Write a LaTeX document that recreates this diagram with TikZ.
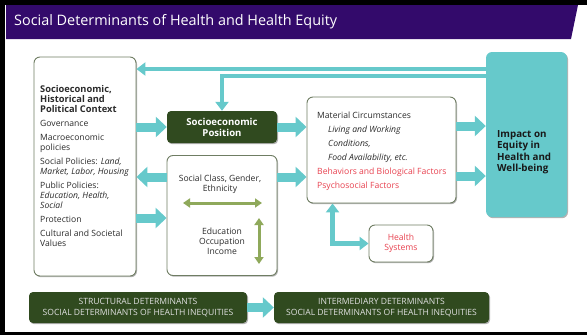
\documentclass[tikz,border=0pt]{standalone}
\usepackage{fontspec}
\setmainfont{Open Sans}
\usetikzlibrary{arrows.meta,shadows,calc}
\definecolor{ttl}{HTML}{330A6B}
\definecolor{tealc}{HTML}{66C9CB}
\definecolor{dgreen}{HTML}{304A1F}
\definecolor{bord}{HTML}{6F7D63}
\definecolor{redt}{HTML}{E8414F}
\definecolor{olive}{HTML}{8FA95B}
\definecolor{txt}{HTML}{2B2B2B}
\tikzset{
  shad/.style={drop shadow={shadow xshift=1pt,shadow yshift=-1.2pt,opacity=0.3,fill=black}},
  whitebox/.style={draw=bord,line width=0.9pt,fill=white,rounded corners=6pt,shad,inner sep=0pt},
  darkbox/.style={draw=none,fill=dgreen,rounded corners=4pt,shad,inner sep=0pt},
  blockarr/.style={draw=tealc,line width=9pt,-{Triangle[length=11pt,width=20pt]}},
  thinarr/.style={draw=tealc,line width=4.5pt,-{Triangle[length=9pt,width=13pt]}},
  hsarr/.style={draw=tealc,line width=5pt,{Triangle[length=9pt,width=13pt]}-{Triangle[length=9pt,width=13pt]}},
  greenarr/.style={draw=olive,line width=3pt,{Triangle[length=7pt,width=9pt]}-{Triangle[length=7pt,width=9pt]}},
  bodytext/.style={inner sep=0pt,text=txt,font=\fontsize{8.6}{10}\selectfont},
}
\begin{document}
\begin{tikzpicture}[x=1pt,y=-1pt]
\useasboundingbox (0,0) rectangle (587,335);
% frame
\fill[black] (0,0) rectangle (587,5);
\fill[black] (0,0) rectangle (5,335);
\fill[black] (0,332) rectangle (587,335);
% title bar
\fill[ttl] (6,5) -- (578,5) -- (571,39) -- (6,39) -- cycle;
\node[anchor=west,inner sep=0pt,text=white,font=\fontsize{14.4}{16}\selectfont] (title) at (14,22) {Social Determinants of Health and Health Equity};

% boxes
\node[whitebox,minimum width=102pt,minimum height=219pt] (left) at (85,166.5) {};
\node[darkbox,minimum width=110pt,minimum height=32pt,align=center,text=white,font=\bfseries\fontsize{9.6}{11}\selectfont] (sep) at (222,127) {Socioeconomic\\Position};
\node[whitebox,minimum width=110pt,minimum height=120pt] (sc) at (222,215.5) {};
\node[whitebox,minimum width=149pt,minimum height=106pt] (mat) at (381.5,150) {};
\node[whitebox,minimum width=64pt,minimum height=37pt,text=redt,align=center,font=\fontsize{8.6}{10}\selectfont] (hs) at (401,243.5) {Health\\Systems};
\node[fill=tealc,rounded corners=6pt,shad,minimum width=81pt,minimum height=165pt,inner sep=0pt] (imp) at (526.5,134.5) {};
\node[darkbox,minimum width=218pt,minimum height=31pt,align=center,text=white!88!black,font=\fontsize{8.6}{11}\selectfont] (struct) at (138,307.5) {STRUCTURAL DETERMINANTS\\SOCIAL DETERMINANTS OF HEALTH INEQUITIES};
\node[darkbox,minimum width=215pt,minimum height=31pt,align=center,text=white!88!black,font=\fontsize{8.6}{11}\selectfont] (inter) at (381.5,307.5) {INTERMEDIARY DETERMINANTS\\SOCIAL DETERMINANTS OF HEALTH INEQUITIES};

% texts
\node[bodytext,anchor=north west,align=left] (lefttxt) at (40,85) {%
{\fontsize{9.3}{10}\selectfont\bfseries Socioeconomic,}\\{\fontsize{9.3}{10}\selectfont\bfseries Historical and}\\{\fontsize{9.3}{10}\selectfont\bfseries Political Context}\\[4pt]
Governance\\[4pt]
Macroeconomic\\policies\\[4pt]
Social Policies: \textit{Land,}\\\textit{Market, Labor, Housing}\\[4pt]
Public Policies:\\\textit{Education, Health,}\\\textit{Social}\\[4pt]
Protection\\[4pt]
Cultural and Societal\\Values};
\node[bodytext,align=center] (sctxt) at (220,184) {Social Class, Gender,\\Ethnicity};
\node[bodytext,align=center] (eoi) at (222,241.5) {Education\\Occupation\\Income};
\node[bodytext,anchor=north west,align=left,font=\fontsize{8.6}{14}\selectfont] (mattxt) at (317,112) {%
Material Circumstances\\
\hspace*{11pt}\textit{Living and Working}\\
\hspace*{11pt}\textit{Conditions,}\\
\hspace*{11pt}\textit{Food Availability, etc.}\\
\textcolor{redt}{Behaviors and Biological Factors}\\
\textcolor{redt}{Psychosocial Factors}};
\node[bodytext,anchor=west,align=left,text=black!90,font=\bfseries\fontsize{9.8}{11.5}\selectfont] (imptxt) at (497,152) {Impact on\\Equity in\\Health and\\Well-being};

% green arrows
\coordinate (gh1) at (183,203);
\coordinate (gh2) at (262,203);
\coordinate (gv1) at (259,218);
\coordinate (gv2) at (259,264);
\draw[greenarr] (gh1) -- (gh2);
\draw[greenarr] (gv1) -- (gv2);

% teal arrows
\draw[thinarr] (imp.west |- 0,69) -- (left.east |- 0,69);
\draw[thinarr] (imp.west |- 0,76) -| (sep.north);
\draw[blockarr] (left.east |- sep.west) -- (sep.west);
\draw[blockarr] (sc.west |- 0,177) -- (left.east |- 0,177);
\draw[blockarr] (left.east |- 0,218) -- (sc.west |- 0,218);
\draw[blockarr] (sep.east) -- (mat.west |- sep.east);
\draw[blockarr] (sc.east |- 0,177) -- (mat.west |- 0,177);
\draw[blockarr] (mat.east |- 0,126) -- (imp.west |- 0,126);
\draw[blockarr] (mat.east |- 0,176) -- (imp.west |- 0,176);
\draw[hsarr] (hs.west) -| ([xshift=26pt]mat.south west);
\draw[blockarr] (struct.east) -- (inter.west);
\end{tikzpicture}
\end{document}
